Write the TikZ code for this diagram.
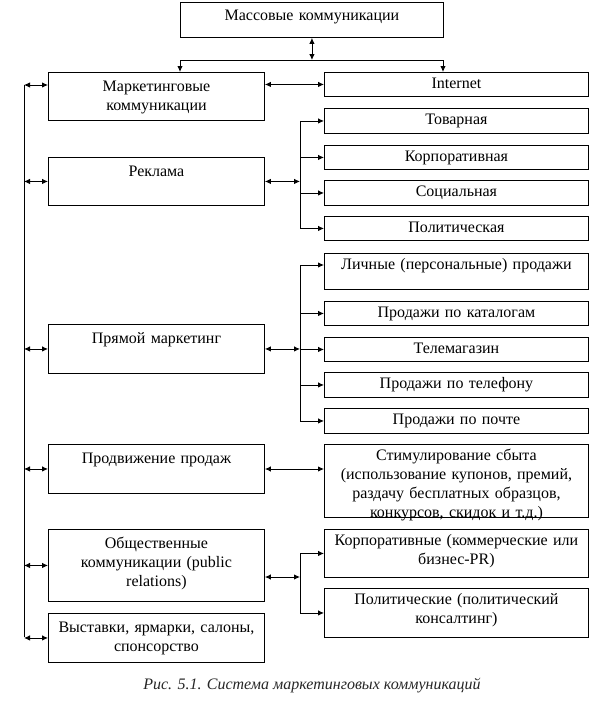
\documentclass[tikz,border=0pt]{standalone}
\usepackage{fontspec}
\setmainfont{Liberation Serif}
\usetikzlibrary{arrows.meta}
\begin{document}
\begin{tikzpicture}[x=1pt,y=-1pt,
  every node/.style={font=\fontsize{16}{19}\selectfont},
  bx/.style={draw, line width=0.9pt, inner sep=0pt, anchor=north west, align=center},
  lb/.style={bx, text width=216pt, text height=19pt},
  rb/.style={bx, text width=264pt, text height=16pt},
  ln/.style={line width=0.9pt},
  arr/.style={line width=0.9pt, -{Latex[length=6pt,width=5.5pt]}},
  dbl/.style={line width=0.9pt, {Latex[length=6pt,width=5.5pt]}-{Latex[length=6pt,width=5.5pt]}}]
\useasboundingbox (0,0) rectangle (613,710);

% top box
\node[bx, text width=263pt, text height=18pt, text depth=17pt] (mass) at (180,2) {Массовые коммуникации};

% left column
\node[lb, text depth=29pt] (mk) at (48,72) {Маркетинговые\\коммуникации};
\node[lb, text depth=29pt] (rek) at (48,157) {Реклама};
\node[lb, text depth=30pt] (pm) at (48,324) {Прямой маркетинг};
\node[lb, text depth=30pt] (pp) at (48,444) {Продвижение продаж};
\node[lb, text depth=53pt] (ok) at (48,529) {Общественные\\коммуникации (public\\relations)};
\node[lb, text depth=30pt] (vy) at (48,613) {Выставки, ярмарки, салоны,\\спонсорство};

% right column
\node[rb, text depth=8pt] (inet) at (324,72) {Internet};
\node[rb, text depth=9pt] (tov) at (324,108) {Товарная};
\node[rb, text depth=8pt] (korp) at (324,145) {Корпоративная};
\node[rb, text depth=9pt] (soc) at (324,180) {Социальная};
\node[rb, text depth=8pt] (pol) at (324,216) {Политическая};
\node[rb, text depth=20pt] (lich) at (324,253) {Личные (персональные) продажи};
\node[rb, text depth=8pt] (kat) at (324,301) {Продажи по каталогам};
\node[rb, text depth=8pt] (tele) at (324,337) {Телемагазин};
\node[rb, text depth=9pt] (tel) at (324,372) {Продажи по телефону};
\node[rb, text depth=9pt] (poch) at (324,408) {Продажи по почте};
\node[rb, text depth=57pt] (stim) at (324,444) {Стимулирование сбыта\\(использование купонов, премий,\\раздачу бесплатных образцов,\\конкурсов, скидок и т.д.)};
\node[rb, text depth=32pt] (kpr) at (324,529) {Корпоративные (коммерческие или\\бизнес-PR)};
\node[rb, text depth=33pt] (polpr) at (324,588) {Политические (политический\\консалтинг)};

% caption
\node[font=\itshape\fontsize{16}{19}\selectfont, text=black!85] (cap) at (312,686) {Рис. 5.1. Система маркетинговых коммуникаций};

% coordinates
\coordinate (hl) at (180,60);
\coordinate (hr) at (443,60);
\coordinate (lt) at (24,85);
\coordinate (lbt) at (24,637);
\coordinate (bus) at (300,0);
\coordinate (lichin) at (324,265);
\coordinate (stimin) at (324,469);
\coordinate (okr) at (300,577);

% top connectors
\draw[dbl] (mass.south) -- (mass.south |- hl);
\draw[ln] (hl) -- (hr);
\draw[arr] (hl) -- (mk.north -| hl);
\draw[arr] (hr) -- (inet.north -| hr);

% left bus
\draw[ln] (lt) -- (lbt);
\draw[dbl] (lt) -- (lt -| mk.west);
\foreach \n in {rek,pm,pp,ok,vy} \draw[dbl] (lt |- \n.west) -- (\n.west);

% marketing <-> internet
\draw[dbl] (mk.east |- inet.west) -- (inet.west);

% advertising
\draw[dbl] (rek.east) -- (rek.east -| bus);
\draw[ln] (bus |- tov.west) -- (bus |- pol.west);
\foreach \n in {tov,korp,soc,pol} \draw[arr] (bus |- \n.west) -- (\n.west);

% direct marketing
\draw[dbl] (pm.east) -- (pm.east -| bus);
\draw[ln] (bus |- lichin) -- (bus |- poch.west);
\draw[arr] (bus |- lichin) -- (lichin);
\foreach \n in {kat,tele,tel,poch} \draw[arr] (bus |- \n.west) -- (\n.west);

% sales promotion
\draw[dbl] (pp.east |- stimin) -- (stimin);

% public relations
\draw[dbl] (ok.east |- okr) -- (okr);
\draw[ln] (bus |- kpr.west) -- (bus |- polpr.west);
\foreach \n in {kpr,polpr} \draw[arr] (bus |- \n.west) -- (\n.west);
\end{tikzpicture}
\end{document}
